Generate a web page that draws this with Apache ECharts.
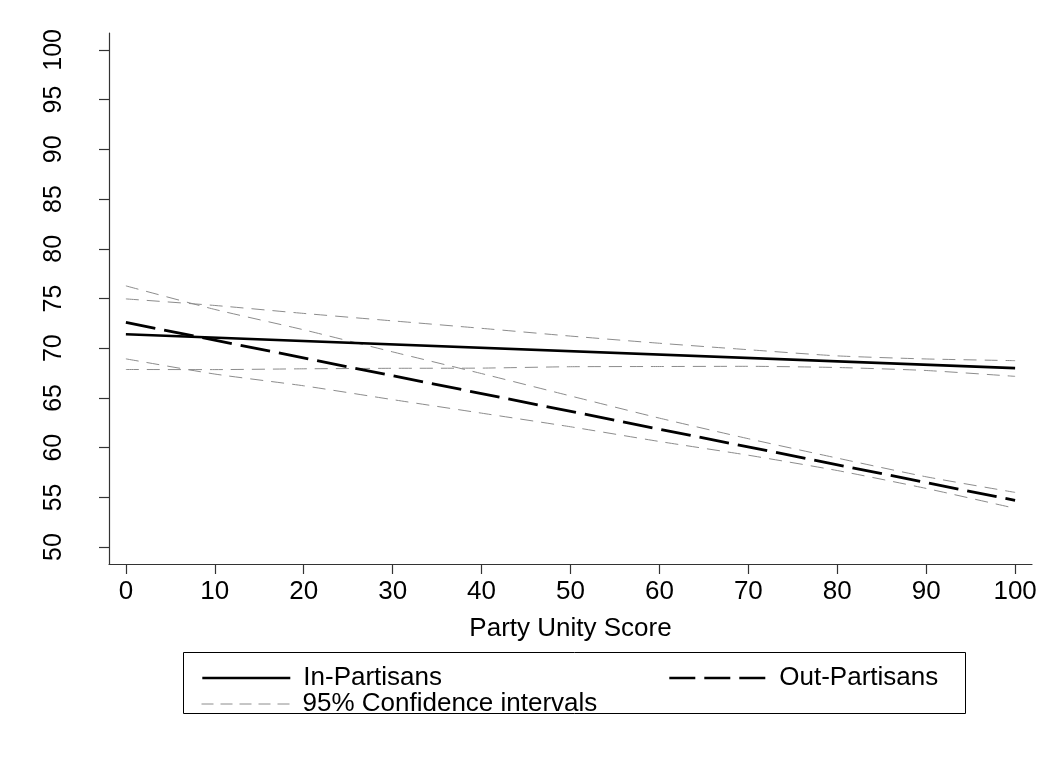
<!DOCTYPE html>
<html>
<head>
<meta charset="utf-8">
<script src="https://cdn.jsdelivr.net/npm/echarts@6/dist/echarts.min.js"></script>
<style>html,body{margin:0;padding:0;background:#fff;}#c{width:1050px;height:768px;}</style>
</head>
<body>
<div id="c"></div>
<script>
// Data
var xTicks = [0, 10, 20, 30, 40, 50, 60, 70, 80, 90, 100];
var yTicks = [50, 55, 60, 65, 70, 75, 80, 85, 90, 95, 100];
var ciX = [0, 10, 20, 30, 40, 50, 60, 70, 80, 90, 100];
var inFitX = [0, 100];
var inFit = [71.4, 68.0];
var outFitX = [0, 100];
var outFit = [72.6, 54.7];
var inUpper = [74.96, 74.3, 73.5, 72.75, 72.0, 71.22, 70.5, 69.85, 69.23, 68.92, 68.75];
var inLower = [67.86, 67.85, 67.93, 67.98, 68.0, 68.14, 68.16, 68.18, 68.06, 67.76, 67.17];
var outUpper = [76.27, 73.9, 71.85, 69.63, 67.45, 65.2, 62.97, 60.9, 58.95, 57.07, 55.5];
var outLower = [68.93, 67.4, 66.22, 64.83, 63.47, 62.1, 60.62, 59.24, 57.7, 55.9, 53.9];

function pairs(xs, ys) { return xs.map(function (x, i) { return [x, ys[i]]; }); }

var FONT = 'Liberation Sans, Arial, sans-serif';
var ciName = '95% Confidence intervals';
var ciStyle = { color: '#8c8c8c', width: 1, type: [13, 8] };
var hidden = { opacity: 0 };

function ciSeries(ys) {
  return {
    name: ciName, type: 'line', data: pairs(ciX, ys), showSymbol: false, symbol: 'none',
    smooth: 0.2, lineStyle: ciStyle, itemStyle: { color: '#8c8c8c' }, z: 1, silent: true
  };
}

var legendText = { fontFamily: FONT, fontSize: 26, color: '#000', padding: [0, 0, 0, 8] };

var chart = echarts.init(document.getElementById('c'), null, { renderer: 'canvas' });
chart.setOption({
  animation: false,
  backgroundColor: '#fff',
  grid: { left: 109, top: 33, right: 18, bottom: 204, containLabel: false },
  xAxis: {
    type: 'value', min: -1.9, max: 101.9,
    name: 'Party Unity Score', nameLocation: 'middle', nameGap: 52,
    nameTextStyle: { fontFamily: FONT, fontSize: 26, color: '#000' },
    axisLine: { show: true, onZero: false, lineStyle: { color: '#333', width: 1.2 } },
    axisTick: { show: true, length: 10, lineStyle: { color: '#333', width: 1.2 }, customValues: xTicks },
    axisLabel: { fontFamily: FONT, fontSize: 26, color: '#000', margin: 15, customValues: xTicks },
    splitLine: { show: false }
  },
  yAxis: {
    type: 'value', min: 48.3, max: 101.7,
    axisLine: { show: true, onZero: false, lineStyle: { color: '#333', width: 1.2 } },
    axisTick: { show: true, length: 10, lineStyle: { color: '#333', width: 1.2 }, customValues: yTicks },
    axisLabel: { fontFamily: FONT, fontSize: 25, color: '#000', margin: 42, rotate: 90, customValues: yTicks },
    splitLine: { show: false }
  },
  legend: [
    {
      left: 196, top: 660, itemWidth: 88, itemHeight: 14, itemGap: 0, selectedMode: false,
      data: [{ name: 'In-Partisans', itemStyle: hidden, lineStyle: { color: '#000', width: 2.6, type: 'solid' } }],
      textStyle: legendText
    },
    {
      left: 663, top: 660, itemWidth: 97, itemHeight: 14, itemGap: 0, selectedMode: false,
      data: [{ name: 'Out-Partisans', itemStyle: hidden, lineStyle: { color: '#000', width: 2.6, type: [26, 9] } }],
      textStyle: legendText
    },
    {
      left: 196, top: 686, itemWidth: 88, itemHeight: 14, itemGap: 0, selectedMode: false,
      data: [{ name: ciName, itemStyle: hidden, lineStyle: { color: '#8c8c8c', width: 1, type: [12, 7] } }],
      textStyle: legendText
    }
  ],
  graphic: [
    { type: 'rect', shape: { x: 183.5, y: 652.5, width: 782, height: 61 },
      style: { fill: 'none', stroke: '#000', lineWidth: 1 }, z: -1 }
  ],
  series: [
    ciSeries(inUpper), ciSeries(inLower), ciSeries(outUpper), ciSeries(outLower),
    { name: 'In-Partisans', type: 'line', data: pairs(inFitX, inFit), showSymbol: false, symbol: 'none',
      lineStyle: { color: '#000', width: 2.6, type: 'solid' }, itemStyle: { color: '#000' }, z: 3 },
    { name: 'Out-Partisans', type: 'line', data: pairs(outFitX, outFit), showSymbol: false, symbol: 'none',
      lineStyle: { color: '#000', width: 2.8, type: [30, 9] }, itemStyle: { color: '#000' }, z: 3 }
  ]
});
</script>
</body>
</html>
